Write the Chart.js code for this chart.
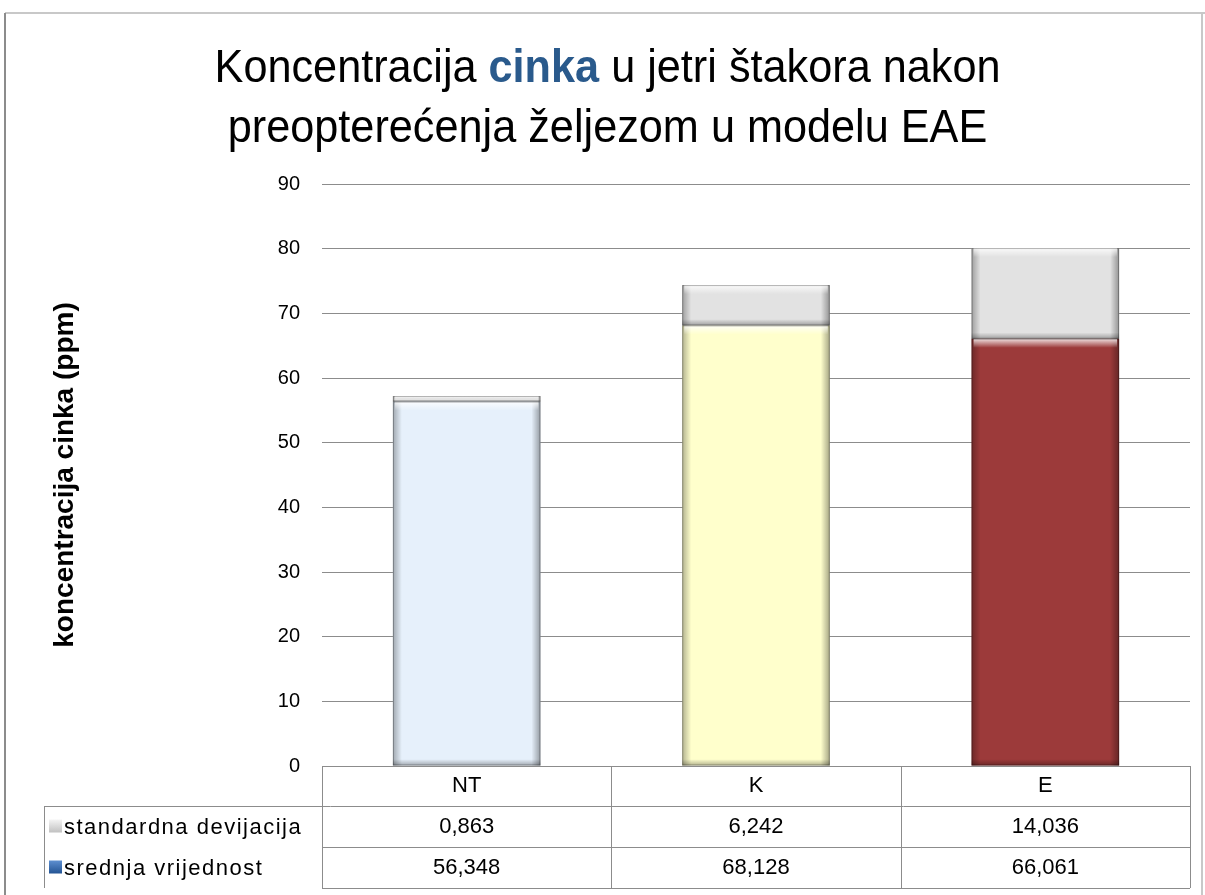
<!DOCTYPE html>
<html>
<head>
<meta charset="utf-8">
<script src="https://cdn.jsdelivr.net/npm/chart.js@4/dist/chart.umd.min.js"></script>
<style>
  html, body { margin: 0; padding: 0; background: #fff; }
  #wrap { position: relative; width: 1205px; height: 895px; }
  #title {
    position: absolute; left: 0; top: 36px; width: 1215px; text-align: center;
    font-family: "Liberation Sans", sans-serif;
    font-size: 47px; line-height: 60px; color: #000;
    transform: scaleX(0.92); transform-origin: 608px 0;
  }
  #title b { color: #2a5a8c; }
</style>
</head>
<body>
<div id="wrap">
  <canvas id="zincChart" width="1205" height="895"></canvas>
  <div id="title">Koncentracija <b>cinka</b> u jetri štakora nakon<br>preopterećenja željezom u modelu EAE</div>
</div>
<script>
const categories = ['NT', 'K', 'E'];
const meanValues = [56.348, 68.128, 66.061];
const sdValues = [0.863, 6.242, 14.036];
const seriesNames = ['standardna devijacija', 'srednja vrijednost'];
const meanColors = ['#e6f0fb', '#ffffcc', '#9c3a3a'];
const sdColor = '#e2e2e2';
const fontFamily = '"Liberation Sans", sans-serif';

const fmt = v => v.toFixed(3).replace('.', ',');

// frame round the whole chart
const framePlugin = {
  id: 'frame',
  beforeDraw(chart) {
    const ctx = chart.ctx;
    ctx.save();
    ctx.strokeStyle = '#c8c8c8';
    ctx.lineWidth = 2;
    ctx.beginPath();
    ctx.moveTo(5, 13); ctx.lineTo(1205, 13);
    ctx.moveTo(1202, 13); ctx.lineTo(1202, 895);
    ctx.stroke();
    ctx.strokeStyle = '#8c8c8c';
    ctx.beginPath();
    ctx.moveTo(5, 13); ctx.lineTo(5, 895);
    ctx.stroke();
    ctx.restore();
  }
};

// bevel look on each bar
const bevelPlugin = {
  id: 'bevel',
  afterDatasetsDraw(chart) {
    const ctx = chart.ctx;
    chart.data.datasets.forEach((ds, di) => {
      chart.getDatasetMeta(di).data.forEach(bar => {
        const w = bar.width;
        const l = bar.x - w / 2, r = bar.x + w / 2;
        const t = Math.min(bar.y, bar.base), b = Math.max(bar.y, bar.base);
        const h = b - t;
        if (h < 1) return;
        const e = Math.min(9, h / 2);
        ctx.save();
        let g = ctx.createLinearGradient(l, 0, l + e, 0);
        g.addColorStop(0, 'rgba(0,0,0,0.3)');
        g.addColorStop(1, 'rgba(0,0,0,0)');
        ctx.fillStyle = g; ctx.fillRect(l, t, e, h);
        g = ctx.createLinearGradient(r, 0, r - e, 0);
        g.addColorStop(0, 'rgba(0,0,0,0.35)');
        g.addColorStop(1, 'rgba(0,0,0,0)');
        ctx.fillStyle = g; ctx.fillRect(r - e, t, e, h);
        g = ctx.createLinearGradient(0, t, 0, t + e);
        g.addColorStop(0, 'rgba(255,255,255,0.85)');
        g.addColorStop(1, 'rgba(255,255,255,0)');
        ctx.fillStyle = g; ctx.fillRect(l + 2, t, w - 4, e);
        g = ctx.createLinearGradient(0, b, 0, b - e * 0.7);
        g.addColorStop(0, 'rgba(0,0,0,0.3)');
        g.addColorStop(1, 'rgba(0,0,0,0)');
        ctx.fillStyle = g; ctx.fillRect(l, b - e * 0.7, w, e * 0.7);
        ctx.strokeStyle = 'rgba(0,0,0,0.28)';
        ctx.lineWidth = 1;
        ctx.strokeRect(l + 0.5, t + 0.5, w - 1, h - 1);
        ctx.restore();
      });
    });
  }
};

// data table under the plot
const tablePlugin = {
  id: 'dataTable',
  afterDraw(chart) {
    const ctx = chart.ctx;
    const area = chart.chartArea;
    const xs = chart.scales.x;
    const half = (area.right - area.left) / categories.length / 2;
    const rowTop = [area.bottom, area.bottom + 40, area.bottom + 81, area.bottom + 122];
    const legLeft = 44;
    ctx.save();
    ctx.strokeStyle = '#8c8c8c';
    ctx.lineWidth = 1;
    ctx.beginPath();
    for (let i = 1; i < rowTop.length; i++) {
      const y = Math.round(rowTop[i]) + 0.5;
      ctx.moveTo(i === 1 ? legLeft : area.left, y);
      ctx.lineTo(area.right, y);
    }
    ctx.moveTo(legLeft + 0.5, rowTop[1]);
    ctx.lineTo(legLeft + 0.5, rowTop[3]);
    const cols = [area.left];
    categories.forEach((c, i) => cols.push(xs.getPixelForValue(i) + half));
    cols.forEach(x => {
      ctx.moveTo(Math.round(x) + 0.5, rowTop[0]);
      ctx.lineTo(Math.round(x) + 0.5, rowTop[3]);
    });
    ctx.stroke();

    ctx.fillStyle = '#000';
    ctx.font = '22px ' + fontFamily;
    ctx.textAlign = 'center';
    ctx.textBaseline = 'middle';
    const rowsVals = [sdValues, meanValues];
    categories.forEach((c, i) => {
      const cx = xs.getPixelForValue(i);
      ctx.fillText(c, cx, (rowTop[0] + rowTop[1]) / 2);
      rowsVals.forEach((vals, r) => {
        ctx.fillText(fmt(vals[i]), cx, (rowTop[r + 1] + rowTop[r + 2]) / 2);
      });
    });

    ctx.textAlign = 'left';
    ctx.letterSpacing = '1.5px';
    seriesNames.forEach((name, r) => {
      const cy = (rowTop[r + 1] + rowTop[r + 2]) / 2;
      const g = ctx.createLinearGradient(0, cy - 7, 0, cy + 7);
      if (r === 0) { g.addColorStop(0, '#f4f4f4'); g.addColorStop(1, '#bdbdbd'); }
      else { g.addColorStop(0, '#5d8fd0'); g.addColorStop(1, '#1f4f8f'); }
      ctx.fillStyle = g;
      ctx.fillRect(49, cy - 7, 13, 13);
      ctx.fillStyle = '#000';
      ctx.fillText(name, 64, cy + 1);
    });
    ctx.restore();
  }
};

new Chart(document.getElementById('zincChart'), {
  type: 'bar',
  data: {
    labels: categories,
    datasets: [
      {
        label: seriesNames[1],
        data: meanValues,
        backgroundColor: meanColors,
        borderWidth: 0
      },
      {
        label: seriesNames[0],
        data: sdValues,
        backgroundColor: sdColor,
        borderWidth: 0
      }
    ]
  },
  options: {
    responsive: false,
    animation: false,
    layout: { padding: { top: 184, right: 15, bottom: 129, left: 0 } },
    datasets: { bar: { categoryPercentage: 1, barPercentage: 0.51 } },
    plugins: {
      legend: { display: false },
      title: { display: false },
      tooltip: { enabled: false }
    },
    scales: {
      x: {
        stacked: true,
        display: false
      },
      y: {
        stacked: true,
        min: 0,
        max: 90,
        afterFit: s => { s.width = 322; },
        ticks: {
          stepSize: 10,
          padding: 22,
          color: '#000',
          font: { family: fontFamily, size: 20 }
        },
        grid: { color: '#8c8c8c', lineWidth: 1, drawTicks: false },
        border: { display: false },
        title: {
          display: true,
          text: 'koncentracija cinka (ppm)',
          color: '#000',
          padding: { top: 48, bottom: 0 },
          font: { family: fontFamily, size: 28, weight: 'bold' }
        }
      }
    }
  },
  plugins: [framePlugin, bevelPlugin, tablePlugin]
});
</script>
</body>
</html>
